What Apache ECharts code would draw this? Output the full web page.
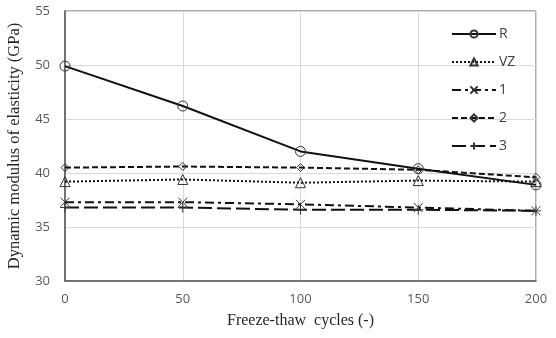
<!DOCTYPE html>
<html>
<head>
<meta charset="utf-8">
<script src="https://cdn.jsdelivr.net/npm/echarts@6/dist/echarts.min.js"></script>
<style>
  html, body { margin: 0; padding: 0; background: #fff; }
  #chart { width: 556px; height: 338px; }
</style>
</head>
<body>
<div id="chart"></div>
<script>
// Freeze-thaw cycles on the x axis
const cycles = [0, 50, 100, 150, 200];

// Dynamic modulus of elasticity (GPa) per mix
const seriesR = [49.9, 46.2, 42.0, 40.4, 38.9];
const seriesVZ = [39.2, 39.4, 39.1, 39.3, 39.2];
const series1 = [37.3, 37.3, 37.1, 36.8, 36.5];
const series2 = [40.5, 40.6, 40.5, 40.3, 39.6];
const series3 = [36.8, 36.8, 36.6, 36.6, 36.5];

const seriesNames = ['R', 'VZ', '1', '2', '3'];

const crossPath = 'path://M0,0L10,10M10,0L0,10';
const plusPath = 'path://M5,0L5,10M0,5L10,5';

function pairs(values) {
  return cycles.map((c, i) => [c, values[i]]);
}

function makeSeries(name, values, symbol, size, lineType) {
  return {
    name: name,
    type: 'line',
    data: pairs(values),
    symbol: symbol,
    symbolSize: size,
    showAllSymbol: true,
    lineStyle: { color: '#111', width: 2, type: lineType },
    itemStyle: { color: 'rgba(255,255,255,0)', borderColor: '#333', borderWidth: 1 },
    emphasis: { disabled: true },
    z: 3
  };
}

const chart = echarts.init(document.getElementById('chart'), null, { renderer: 'canvas' });

chart.setOption({
  animation: false,
  backgroundColor: '#fff',
  grid: {
    left: 65, right: 20, top: 11, bottom: 57,
    outerBoundsMode: 'none',
    containLabel: false,
    show: true, borderColor: '#595959', borderWidth: 1
  },
  legend: {
    orient: 'vertical',
    left: 446,
    top: 22,
    itemWidth: 44,
    itemHeight: 9,
    itemGap: 14,
    data: seriesNames,
    textStyle: { fontFamily: 'Open Sans', fontSize: 14, color: '#404040', padding: [0, 0, 0, -2] }
  },
  xAxis: {
    type: 'value',
    min: 0, max: 200, interval: 50,
    name: 'Freeze-thaw  cycles (-)',
    nameLocation: 'middle',
    nameGap: 32,
    nameTextStyle: { fontFamily: 'Liberation Serif', fontSize: 16, color: '#262626' },
    axisLine: { show: true, lineStyle: { color: '#595959', width: 1.5 } },
    axisTick: { show: false },
    axisLabel: { fontFamily: 'Open Sans', fontSize: 13, color: '#595959', margin: 12 },
    splitLine: { show: true, lineStyle: { color: '#d9d9d9', width: 1 } }
  },
  yAxis: {
    type: 'value',
    min: 30, max: 55, interval: 5,
    name: 'Dynamic modulus of elasticity (GPa)',
    nameLocation: 'middle',
    nameGap: 42,
    nameTextStyle: { fontFamily: 'Liberation Serif', fontSize: 16.5, color: '#262626' },
    axisLine: { show: true, lineStyle: { color: '#595959', width: 1.5 } },
    axisTick: { show: false },
    axisLabel: { fontFamily: 'Open Sans', fontSize: 13, color: '#595959', margin: 15 },
    splitLine: { show: true, lineStyle: { color: '#d9d9d9', width: 1 } }
  },
  series: [
    makeSeries('R', seriesR, 'circle', 10, 'solid'),
    makeSeries('VZ', seriesVZ, 'triangle', 10, [2, 2]),
    makeSeries('1', series1, crossPath, 9, [9, 4, 3, 4]),
    makeSeries('2', series2, 'diamond', 8, [6, 3]),
    makeSeries('3', series3, plusPath, 10, [14, 5])
  ]
});
</script>
</body>
</html>
